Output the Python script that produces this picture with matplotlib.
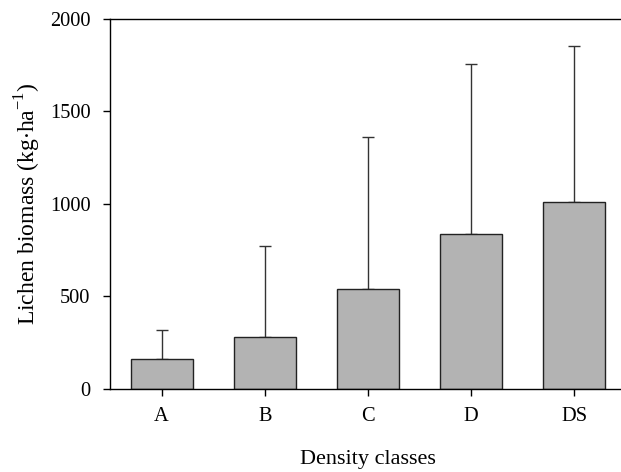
import numpy as np
import matplotlib.pyplot as plt

# Lichen biomass by stand density class (mean + SD)
classes = ["A", "B", "C", "D", "DS"]
biomass = [163, 280, 540, 838, 1007]
sd = [157, 492, 820, 914, 846]

plt.rcParams['font.family'] = ['Liberation Serif', 'DejaVu Serif']
plt.rcParams['mathtext.fontset'] = 'custom'
plt.rcParams['mathtext.rm'] = 'Liberation Serif'

fig = plt.figure(figsize=(6.21, 4.72), dpi=100)
ax = fig.add_axes([110 / 621, 1 - 389 / 472, 516 / 621, 370.5 / 472])

x = np.arange(len(classes))
ax.bar(x, biomass, width=0.6, color="#b3b3b3", edgecolor="#222222",
       linewidth=1.0, zorder=2)
ax.errorbar(x, biomass, yerr=[np.zeros(len(sd)), sd], fmt="none",
            ecolor="#333333", elinewidth=1.0, capsize=4.3, capthick=1.0,
            zorder=1)

ax.set_xlim(-0.5, 4.5)
ax.set_ylim(0, 2000)
ax.set_yticks([0, 500, 1000, 1500, 2000])
ax.set_xticks(x)
ax.set_xticklabels(classes)
ax.tick_params(axis="both", direction="out", length=5, width=1.0,
               labelsize=14.7)
ax.tick_params(axis="y", pad=9)
ax.tick_params(axis="x", pad=8)
ax.spines["right"].set_visible(False)
for s in ["left", "top", "bottom"]:
    ax.spines[s].set_linewidth(1.0)

ax.set_xlabel("Density classes", fontsize=16, labelpad=17)
ax.set_ylabel(r"Lichen biomass (kg$\mathregular{\cdot}$ha$^{\mathregular{-1}}$)",
              fontsize=17, labelpad=5)

fig.savefig("out.png", dpi=100)
